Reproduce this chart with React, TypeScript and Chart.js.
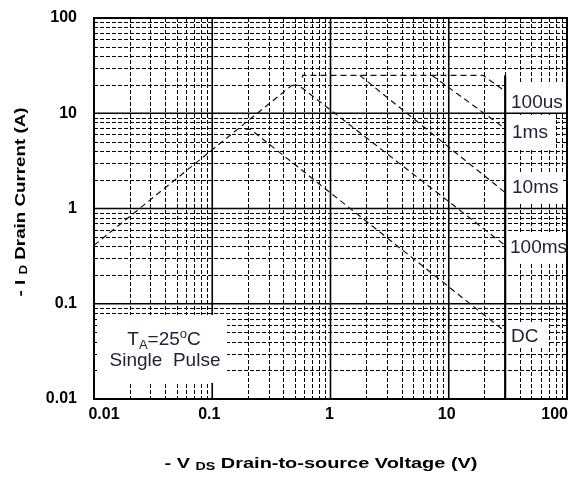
import React, { useEffect, useRef } from "react";
import { Chart, registerables } from "chart.js";

Chart.register(...registerables);

// ---- Data (log-log safe operating area) ----
const decadeTicks = [0.01, 0.1, 1, 10, 100];
const xTickLabels = ["0.01", "0.1", "1", "10", "100"];
const yTickLabels = ["0.01", "0.1", "1", "10", "100"];

const rdsV = [0.01, 0.47];
const rdsI = [0.41, 19.6];
const us100V = [0.58, 0.58, 19.5, 30];
const us100I = [23.8, 25, 25, 17];
const ms1V = [7.2, 30];
const ms1I = [25, 6.9];
const ms10V = [1.77, 30];
const ms10I = [25, 1.47];
const ms100V = [0.47, 0.54, 30];
const ms100I = [19.6, 19.6, 0.41];
const dcV = [0.19, 0.21, 30];
const dcI = [6.8, 6.8, 0.051];
const vmaxV = [30, 30];
const vmaxI = [25, 0.01];

const seriesLabels = ["100us", "1ms", "10ms", "100ms", "DC"];

const FONT = "'Liberation Sans', Arial, Helvetica, sans-serif";

function pts(xs: number[], ys: number[]) {
  return xs.map((x, i) => ({ x, y: ys[i] }));
}

const dashedDs = (label: string, xs: number[], ys: number[]) => ({
  label,
  data: pts(xs, ys),
  showLine: true,
  borderColor: "#111",
  borderWidth: 1.2,
  borderDash: [6, 4],
  pointRadius: 0,
  fill: false,
});

const gridPlugin = {
  id: "soaGrid",
  beforeDatasetsDraw(chart: any) {
    const { ctx, chartArea: a, scales } = chart;
    const xs = scales.x;
    const ys = scales.y;
    ctx.save();
    ctx.beginPath();
    ctx.rect(a.left, a.top, a.right - a.left, a.bottom - a.top);
    ctx.clip();
    ctx.fillStyle = "#fff";
    ctx.fillRect(a.left, a.top, a.right - a.left, a.bottom - a.top);
    // minor lines
    ctx.strokeStyle = "#000";
    ctx.lineWidth = 1;
    ctx.setLineDash([4, 2]);
    for (let d = -2; d < 2; d++) {
      for (let k = 2; k <= 9; k++) {
        const v = k * Math.pow(10, d);
        const px = Math.round(xs.getPixelForValue(v)) + 0.5;
        ctx.beginPath();
        ctx.moveTo(px, a.top);
        ctx.lineTo(px, a.bottom);
        ctx.stroke();
        const py = Math.round(ys.getPixelForValue(v)) + 0.5;
        ctx.beginPath();
        ctx.moveTo(a.left, py);
        ctx.lineTo(a.right, py);
        ctx.stroke();
      }
    }
    // major lines
    ctx.setLineDash([]);
    ctx.lineWidth = 1.6;
    decadeTicks.forEach((v) => {
      const px = xs.getPixelForValue(v);
      ctx.beginPath();
      ctx.moveTo(px, a.top);
      ctx.lineTo(px, a.bottom);
      ctx.stroke();
      const py = ys.getPixelForValue(v);
      ctx.beginPath();
      ctx.moveTo(a.left, py);
      ctx.lineTo(a.right, py);
      ctx.stroke();
    });
    // white boxes behind annotations
    ctx.fillStyle = "#fff";
    ctx.fillRect(97, 315, 130, 68);
    ctx.fillRect(508, 82, 58, 30);
    ctx.fillRect(508, 115, 48, 33);
    ctx.fillRect(508, 172, 55, 30);
    ctx.fillRect(508, 232, 59, 31);
    ctx.fillRect(508, 322, 40, 26);
    ctx.restore();
  },
  afterDatasetsDraw(chart: any) {
    const { ctx, chartArea: a, scales } = chart;
    ctx.save();
    // frame
    ctx.strokeStyle = "#000";
    ctx.lineWidth = 2;
    ctx.setLineDash([]);
    ctx.strokeRect(a.left, a.top, a.right - a.left, a.bottom - a.top);

    // x tick labels (first shifted inward, last right-aligned to frame)
    ctx.fillStyle = "#000";
    ctx.font = `bold 16px ${FONT}`;
    ctx.textBaseline = "middle";
    const xOffsets = [10, -3, -1, -2, 0];
    decadeTicks.forEach((v, i) => {
      const px = scales.x.getPixelForValue(v);
      if (i === decadeTicks.length - 1) {
        ctx.textAlign = "right";
        ctx.fillText(xTickLabels[i], px + 1, a.bottom + 16);
      } else {
        ctx.textAlign = "center";
        ctx.fillText(xTickLabels[i], px + xOffsets[i], a.bottom + 16);
      }
    });

    // series labels
    ctx.fillStyle = "#222238";
    ctx.font = `19px ${FONT}`;
    ctx.textAlign = "left";
    ctx.textBaseline = "alphabetic";
    const lblPos = [
      [511, 108],
      [512, 138],
      [512, 193],
      [510, 253],
      [511, 342],
    ];
    seriesLabels.forEach((t, i) => ctx.fillText(t, lblPos[i][0], lblPos[i][1]));

    // TA = 25°C / Single Pulse
    const big = `19px ${FONT}`;
    const small = `13px ${FONT}`;
    const parts1: [string, string, number][] = [
      ["T", big, 0],
      ["A", small, 4],
      ["=25", big, 0],
      ["o", small, -7],
      ["C", big, 0],
    ];
    let w = 0;
    parts1.forEach(([t, f]) => {
      ctx.font = f;
      w += ctx.measureText(t).width;
    });
    let x = 164 - w / 2;
    parts1.forEach(([t, f, dy]) => {
      ctx.font = f;
      ctx.fillText(t, x, 345 + dy);
      x += ctx.measureText(t).width;
    });
    ctx.font = big;
    ctx.textAlign = "center";
    ctx.fillText("Single  Pulse", 165, 366);

    // axis titles
    ctx.fillStyle = "#000";
    const titleBig = `bold 14px ${FONT}`;
    const titleSmall = `bold 10px ${FONT}`;
    const drawStretched = (
      parts: [string, string, number][],
      cx: number,
      cy: number,
      target: number,
      rot: number
    ) => {
      let tw = 0;
      parts.forEach(([t, f]) => {
        ctx.font = f;
        tw += ctx.measureText(t).width;
      });
      ctx.save();
      ctx.translate(cx, cy);
      ctx.rotate(rot);
      ctx.scale(target / tw, 1);
      ctx.textAlign = "left";
      let xx = -tw / 2;
      parts.forEach(([t, f, dy]) => {
        ctx.font = f;
        ctx.fillText(t, xx, dy);
        xx += ctx.measureText(t).width;
      });
      ctx.restore();
    };
    drawStretched(
      [
        ["- V ", titleBig, 0],
        ["DS", titleSmall, 2],
        [" Drain-to-source Voltage (V)", titleBig, 0],
      ],
      321,
      468,
      313,
      0
    );
    drawStretched(
      [
        ["- I ", titleBig, 0],
        ["D", titleSmall, 2],
        [" Drain Current (A)", titleBig, 0],
      ],
      25,
      202,
      189,
      -Math.PI / 2
    );
    ctx.restore();
  },
};

export default function App() {
  const ref = useRef<HTMLCanvasElement>(null);
  useEffect(() => {
    if (!ref.current) return;
    const decadeSet = (scale: any) => {
      scale.ticks = decadeTicks.map((v) => ({ value: v }));
    };
    const chart = new Chart(ref.current, {
      type: "scatter",
      data: {
        datasets: [
          dashedDs("Rds(on) limit", rdsV, rdsI),
          dashedDs(seriesLabels[0], us100V, us100I),
          dashedDs(seriesLabels[1], ms1V, ms1I),
          dashedDs(seriesLabels[2], ms10V, ms10I),
          dashedDs(seriesLabels[3], ms100V, ms100I),
          dashedDs(seriesLabels[4], dcV, dcI),
          {
            label: "VDS max",
            data: pts(vmaxV, vmaxI),
            showLine: true,
            borderColor: "#000",
            borderWidth: 2.2,
            pointRadius: 0,
            fill: false,
          } as any,
        ],
      },
      options: {
        responsive: false,
        animation: false,
        devicePixelRatio: 1,
        layout: { padding: { left: 0, right: 7, top: 18, bottom: 0 } },
        plugins: {
          legend: { display: false },
          tooltip: { enabled: false },
        },
        scales: {
          x: {
            type: "logarithmic",
            min: 0.01,
            max: 100,
            afterBuildTicks: decadeSet,
            afterFit: (s: any) => {
              s.height = 79;
              s.paddingLeft = 0;
              s.paddingRight = 0;
            },
            grid: { display: false },
            border: { display: false },
            ticks: { display: false },
          },
          y: {
            type: "logarithmic",
            min: 0.01,
            max: 100,
            afterBuildTicks: decadeSet,
            afterFit: (s: any) => {
              s.width = 94;
              s.paddingTop = 0;
              s.paddingBottom = 0;
            },
            grid: { display: false },
            border: { display: false },
            ticks: {
              color: "#000",
              font: { family: FONT, size: 16, weight: "bold" },
              padding: 9,
              autoSkip: false,
              callback: (v: any) => {
                const i = decadeTicks.findIndex((d) => Math.abs(d - Number(v)) < d * 1e-6);
                return i >= 0 ? yTickLabels[i] : "";
              },
            },
          },
        },
      } as any,
      plugins: [gridPlugin],
    });
    return () => chart.destroy();
  }, []);
  return (
    <div style={{ position: "fixed", left: 0, top: 0, width: 574, height: 478, background: "#fff" }}>
      <canvas ref={ref} width={574} height={478} style={{ width: 574, height: 478 }} />
    </div>
  );
}
